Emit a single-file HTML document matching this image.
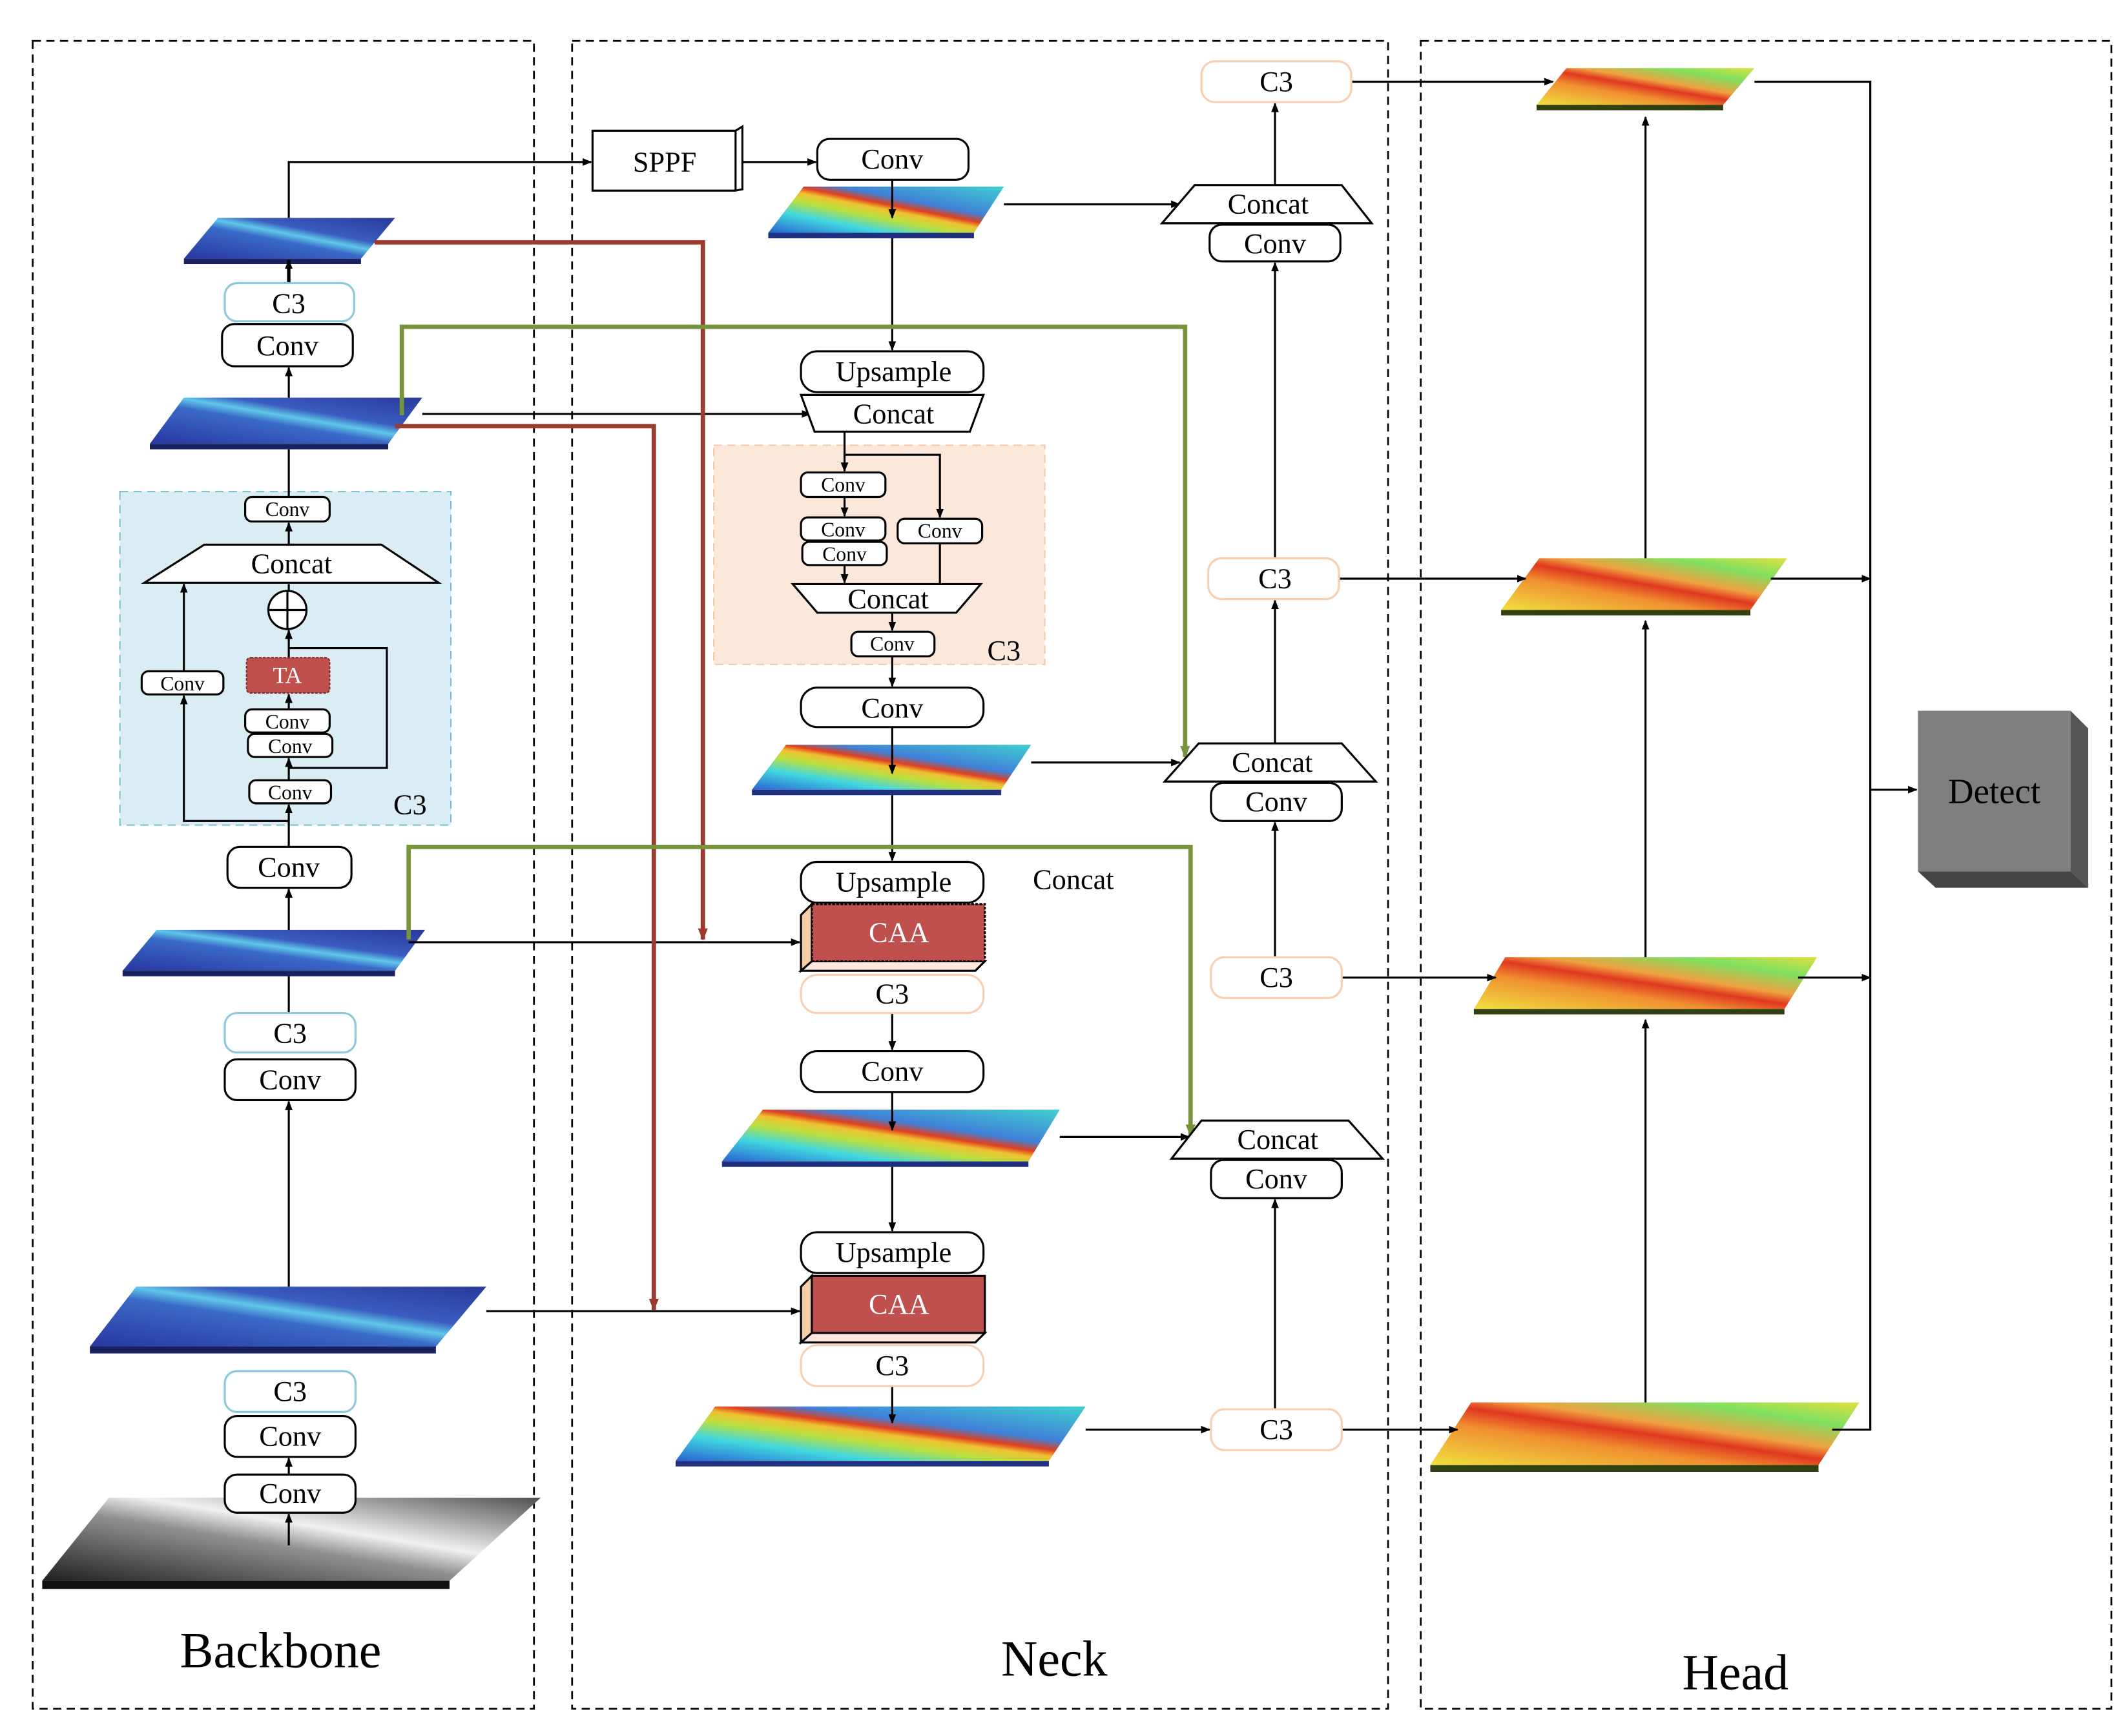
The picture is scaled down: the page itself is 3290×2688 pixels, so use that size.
<!DOCTYPE html>
<html><head><meta charset="utf-8"><style>
html,body{margin:0;padding:0;background:#fff}
svg{display:block}
text{font-family:"Liberation Serif",serif;fill:#000;text-anchor:middle;dominant-baseline:central}
</style></head><body>
<svg width="3290" height="2688" viewBox="0 0 1560 1275" preserveAspectRatio="none" xmlns="http://www.w3.org/2000/svg">
<defs>
<marker id="a" viewBox="0 0 10 10" refX="9" refY="5" markerWidth="7" markerHeight="7" orient="auto-start-reverse" markerUnits="userSpaceOnUse"><path d="M0,1 L10,5 L0,9z" fill="#000"/></marker>
<marker id="ar" viewBox="0 0 10 10" refX="9" refY="5" markerWidth="9" markerHeight="9" orient="auto" markerUnits="userSpaceOnUse"><path d="M0,1 L10,5 L0,9z" fill="#9b3a2e"/></marker>
<marker id="ag" viewBox="0 0 10 10" refX="9" refY="5" markerWidth="9" markerHeight="9" orient="auto" markerUnits="userSpaceOnUse"><path d="M0,1 L10,5 L0,9z" fill="#77933c"/></marker>
<linearGradient id="gb" x1="0" y1="1" x2="1" y2="0"><stop offset="0" stop-color="#2836a0"/><stop offset="0.45" stop-color="#3a6ac8"/><stop offset="0.55" stop-color="#5fc8e8"/><stop offset="0.65" stop-color="#3a5cc0"/><stop offset="1" stop-color="#2a3a9a"/></linearGradient>
<linearGradient id="gn" x1="0" y1="1" x2="1" y2="0"><stop offset="0" stop-color="#2a60d0"/><stop offset="0.25" stop-color="#40d8e0"/><stop offset="0.4" stop-color="#b8e040"/><stop offset="0.5" stop-color="#f0c030"/><stop offset="0.56" stop-color="#e04020"/><stop offset="0.65" stop-color="#4080d8"/><stop offset="1" stop-color="#40d0d0"/></linearGradient>
<linearGradient id="gh" x1="0" y1="1" x2="1" y2="0"><stop offset="0" stop-color="#f0e040"/><stop offset="0.35" stop-color="#f09030"/><stop offset="0.5" stop-color="#e03820"/><stop offset="0.6" stop-color="#f0a040"/><stop offset="0.8" stop-color="#80e060"/><stop offset="1" stop-color="#e0e040"/></linearGradient>
<linearGradient id="gg" x1="0" y1="1" x2="1" y2="0"><stop offset="0" stop-color="#202020"/><stop offset="0.45" stop-color="#909090"/><stop offset="0.6" stop-color="#f0f0f0"/><stop offset="1" stop-color="#505050"/></linearGradient>
</defs>
<g fill="none" stroke="#000" stroke-width="1.3" stroke-dasharray="6,4">
<rect x="24" y="30" width="368" height="1225"/>
<rect x="420" y="30" width="599" height="1225"/>
<rect x="1043" y="30" width="507" height="1225"/>
</g>
<text x="206" y="1212" font-size="37">Backbone</text>
<text x="774" y="1218" font-size="37">Neck</text>
<text x="1274" y="1228" font-size="37">Head</text>

<!-- shaded regions -->
<rect x="88" y="361" width="243" height="245" fill="#daedf4" stroke="#7fc0d8" stroke-dasharray="6,4"/>
<rect x="524" y="327" width="243" height="161" fill="#fbe8da" stroke="#f5c9a8" stroke-dasharray="6,4"/>

<!-- feature maps -->
<g stroke="none">
<polygon points="160,160 290,160 265,190 135,190" fill="url(#gb)"/><polygon points="135,190 265,190 265,194 135,194" fill="#1a2060"/>
<polygon points="135,292 310,292 285,326 110,326" fill="url(#gb)"/><polygon points="110,326 285,326 285,330 110,330" fill="#1a2060"/>
<polygon points="115,683 312,683 290,713 90,713" fill="url(#gb)"/><polygon points="90,713 290,713 290,717 90,717" fill="#1a2060"/>
<polygon points="100,945 357,945 320,989 66,989" fill="url(#gb)"/><polygon points="66,989 320,989 320,994 66,994" fill="#1a2060"/>
<polygon points="80,1100 397,1100 330,1161 31,1161" fill="url(#gg)"/><polygon points="31,1161 330,1161 330,1167 31,1167" fill="#111"/>
<polygon points="590,137 737,137 715,171 564,171" fill="url(#gn)"/><polygon points="564,171 715,171 715,175 564,175" fill="#203080"/>
<polygon points="577,547 757,547 735,580 552,580" fill="url(#gn)"/><polygon points="552,580 735,580 735,584 552,584" fill="#203080"/>
<polygon points="560,815 778,815 755,853 530,853" fill="url(#gn)"/><polygon points="530,853 755,853 755,857 530,857" fill="#203080"/>
<polygon points="525,1033 797,1033 770,1073 496,1073" fill="url(#gn)"/><polygon points="496,1073 770,1073 770,1077 496,1077" fill="#203080"/>
<polygon points="1150,50 1288,50 1265,77 1128,77" fill="url(#gh)"/><polygon points="1128,77 1265,77 1265,81 1128,81" fill="#304010"/>
<polygon points="1130,410 1312,410 1285,448 1102,448" fill="url(#gh)"/><polygon points="1102,448 1285,448 1285,452 1102,452" fill="#304010"/>
<polygon points="1105,703 1334,703 1310,741 1082,741" fill="url(#gh)"/><polygon points="1082,741 1310,741 1310,745 1082,745" fill="#304010"/>
<polygon points="1080,1030 1365,1030 1335,1076 1050,1076" fill="url(#gh)"/><polygon points="1050,1076 1335,1076 1335,1081 1050,1081" fill="#304010"/>
</g>

<!-- connectors black -->
<g fill="none" stroke="#000" stroke-width="1.5">
<path d="M212,160 V119 H434" marker-end="url(#a)"/>
<path d="M543,119 H599" marker-end="url(#a)"/>
<path d="M655,132 V160" marker-end="url(#a)"/>
<path d="M737,150 H866" marker-end="url(#a)"/>
<path d="M655,175 V257" marker-end="url(#a)"/>
<path d="M936,136 V76" marker-end="url(#a)"/>
<path d="M992,60 H1140" marker-end="url(#a)"/>
<path d="M310,304 H595" marker-end="url(#a)"/>
<path d="M620,317 V346" marker-end="url(#a)"/>
<path d="M620,334 H690 V380" marker-end="url(#a)"/>
<path d="M620,365 V379" marker-end="url(#a)"/>
<path d="M620,415 V428" marker-end="url(#a)"/>
<path d="M690,399 V429"/>
<path d="M655,450 V463" marker-end="url(#a)"/>
<path d="M655,482 V504" marker-end="url(#a)"/>
<path d="M655,534 V568" marker-end="url(#a)"/>
<path d="M757,560 H866" marker-end="url(#a)"/>
<path d="M936,546 V441" marker-end="url(#a)"/>
<path d="M936,410 V193" marker-end="url(#a)"/>
<path d="M983,425 H1120" marker-end="url(#a)"/>
<path d="M655,584 V632" marker-end="url(#a)"/>
<path d="M300,692 H587" marker-end="url(#a)"/>
<path d="M655,744 V771" marker-end="url(#a)"/>
<path d="M655,802 V830" marker-end="url(#a)"/>
<path d="M778,835 H873" marker-end="url(#a)"/>
<path d="M936,703 V604" marker-end="url(#a)"/>
<path d="M985,718 H1098" marker-end="url(#a)"/>
<path d="M655,857 V904" marker-end="url(#a)"/>
<path d="M357,963 H587" marker-end="url(#a)"/>
<path d="M655,1018 V1045" marker-end="url(#a)"/>
<path d="M797,1050 H888" marker-end="url(#a)"/>
<path d="M936,1035 V881" marker-end="url(#a)"/>
<path d="M985,1050 H1070" marker-end="url(#a)"/>
<path d="M1208,410 V86" marker-end="url(#a)"/>
<path d="M1208,703 V456" marker-end="url(#a)"/>
<path d="M1208,1030 V749" marker-end="url(#a)"/>
<path d="M1288,60 H1373 V1050 H1345"/>
<path d="M1300,425 H1373" marker-end="url(#a)"/>
<path d="M1320,718 H1373" marker-end="url(#a)"/>
<path d="M1373,580 H1407" marker-end="url(#a)"/>
<!-- backbone column -->
<path d="M212,1135 V1112" marker-end="url(#a)"/>
<path d="M212,1083 V1071" marker-end="url(#a)"/>
<path d="M212,945 V809" marker-end="url(#a)"/>
<path d="M212,744 V717"/>
<path d="M212,683 V653" marker-end="url(#a)"/>
<path d="M212,622 V591" marker-end="url(#a)"/>
<path d="M212,573 V557" marker-end="url(#a)"/>
<path d="M212,539 V538"/>
<path d="M212,521 V510" marker-end="url(#a)"/>
<path d="M212,483 V463" marker-end="url(#a)"/>
<path d="M212,476 H284 V564 H212"/>
<path d="M212,603 H135 V511" marker-end="url(#a)"/>
<path d="M135,493 V429" marker-end="url(#a)"/>
<path d="M212,434 V429"/>
<path d="M212,400 V384" marker-end="url(#a)"/>
<path d="M212,365 V330"/>
<path d="M212,292 V270" marker-end="url(#a)"/>
<path d="M212,208 V191" marker-end="url(#a)" stroke-width="2.5"/>
</g>

<!-- red / green lines -->
<g fill="none" stroke-width="3.2">
<path d="M275,178 H516 V690" stroke="#9b3a2e" marker-end="url(#ar)"/>
<path d="M290,313 H480 V962" stroke="#9b3a2e" marker-end="url(#ar)"/>
<path d="M295,305 V240 H870 V556" stroke="#77933c" marker-end="url(#ag)"/>
<path d="M300,690 V622 H874 V834" stroke="#77933c" marker-end="url(#ag)"/>
</g>

<!-- boxes -->
<g stroke="#000" stroke-width="1.5" fill="#fff">
<rect x="163" y="238" width="96" height="31" rx="9"/>
<rect x="167" y="622" width="91" height="30" rx="9"/>
<rect x="165" y="778" width="96" height="30" rx="9"/>
<rect x="165" y="1040" width="96" height="30" rx="9"/>
<rect x="165" y="1083" width="96" height="28" rx="9"/>
<rect x="180" y="365" width="62" height="18" rx="5"/>
<polygon points="150,400 280,400 322,428 106,428"/>
<rect x="104" y="493" width="60" height="17" rx="5"/>
<rect x="180" y="521" width="62" height="17" rx="5"/>
<rect x="182" y="539" width="62" height="17" rx="5"/>
<rect x="183" y="573" width="60" height="17" rx="5"/>
<rect x="600" y="102" width="111" height="30" rx="9"/>
<rect x="888" y="165" width="96" height="27" rx="9"/>
<polygon points="877,136 985,136 1007,164 853,164"/>
<rect x="588" y="258" width="134" height="30" rx="12"/>
<polygon points="588,290 722,290 712,317 598,317"/>
<rect x="588" y="347" width="62" height="18" rx="5"/>
<rect x="588" y="380" width="62" height="17" rx="5"/>
<rect x="589" y="398" width="62" height="17" rx="5"/>
<rect x="659" y="381" width="62" height="18" rx="5"/>
<polygon points="582,429 720,429 702,450 600,450"/>
<rect x="625" y="464" width="61" height="18" rx="5"/>
<rect x="588" y="505" width="134" height="29" rx="12"/>
<polygon points="880,546 985,546 1010,574 855,574"/>
<rect x="889" y="575" width="96" height="28" rx="9"/>
<rect x="588" y="633" width="134" height="30" rx="12"/>
<rect x="588" y="772" width="134" height="30" rx="12"/>
<polygon points="882,823 990,823 1015,851 860,851"/>
<rect x="889" y="852" width="96" height="28" rx="9"/>
<rect x="588" y="905" width="134" height="30" rx="12"/>
</g>
<circle cx="211" cy="448" r="14" fill="#fff" stroke="#000" stroke-width="1.5"/>
<path d="M197,448 H225 M211,434 V462" stroke="#000" stroke-width="1.5"/>
<rect x="181" y="483" width="61" height="26" rx="3" fill="#c0504d" stroke="#7a2a2a" stroke-dasharray="2,1"/>

<!-- colored border boxes -->
<g fill="#fff" stroke-width="1.5">
<rect x="165" y="208" width="95" height="28" rx="9" stroke="#8cc8dc"/>
<rect x="165" y="744" width="96" height="29" rx="9" stroke="#8cc8dc"/>
<rect x="165" y="1007" width="96" height="30" rx="9" stroke="#8cc8dc"/>
<rect x="882" y="45" width="110" height="30" rx="10" stroke="#f8cfb0"/>
<rect x="887" y="410" width="96" height="30" rx="10" stroke="#f8cfb0"/>
<rect x="889" y="703" width="96" height="30" rx="10" stroke="#f8cfb0"/>
<rect x="889" y="1035" width="96" height="30" rx="10" stroke="#f8cfb0"/>
<rect x="588" y="716" width="134" height="28" rx="12" stroke="#f8cfb0"/>
<rect x="588" y="988" width="134" height="30" rx="12" stroke="#f8cfb0"/>
</g>

<!-- SPPF -->
<polygon points="435,96 540,96 545,93 545,139 540,140 435,140" fill="#fff" stroke="#000" stroke-width="1.5"/>
<path d="M540,96 V140" stroke="#000" stroke-width="1.5"/>
<!-- CAA -->
<g stroke="#000" stroke-width="1.5">
<polygon points="588,672 596,664 596,706 588,713" fill="#f9cca8"/>
<polygon points="588,713 596,706 723,706 716,713" fill="#fde9e0"/>
<rect x="596" y="664" width="127" height="42" fill="#c0504d" stroke-dasharray="2,1"/>
<polygon points="588,945 596,937 596,979 588,986" fill="#f9cca8"/>
<polygon points="588,986 596,979 723,979 716,986" fill="#fde9e0"/>
<rect x="596" y="937" width="127" height="42" fill="#c0504d"/>
</g>
<!-- Detect -->
<polygon points="1520,522 1533,535 1533,652 1520,640" fill="#555"/>
<polygon points="1408,640 1520,640 1533,652 1421,652" fill="#444"/>
<rect x="1408" y="522" width="112" height="118" fill="#7f7f7f"/>

<!-- labels -->
<g font-size="21">
<text x="212" y="223">C3</text><text x="211" y="254">Conv</text>
<text x="212" y="637">Conv</text>
<text x="213" y="759">C3</text><text x="213" y="793">Conv</text>
<text x="213" y="1022">C3</text><text x="213" y="1055">Conv</text><text x="213" y="1097">Conv</text>
<text x="214" y="414">Concat</text>
<text x="488" y="119">SPPF</text>
<text x="655" y="117">Conv</text>
<text x="931" y="150">Concat</text><text x="936" y="179">Conv</text>
<text x="937" y="60">C3</text>
<text x="656" y="273">Upsample</text><text x="656" y="304">Concat</text>
<text x="652" y="440">Concat</text>
<text x="655" y="520">Conv</text>
<text x="934" y="560">Concat</text><text x="937" y="589">Conv</text>
<text x="936" y="425">C3</text>
<text x="656" y="648">Upsample</text><text x="788" y="646">Concat</text>
<text x="655" y="730">C3</text><text x="655" y="787">Conv</text>
<text x="937" y="718">C3</text>
<text x="938" y="837">Concat</text><text x="937" y="866">Conv</text>
<text x="656" y="920">Upsample</text>
<text x="655" y="1003">C3</text>
<text x="937" y="1050">C3</text>
<text x="301" y="591">C3</text><text x="737" y="478">C3</text>
<text x="660" y="685" fill="#fff" style="fill:#fff">CAA</text>
<text x="660" y="958" style="fill:#fff">CAA</text>
</g>
<g font-size="15">
<text x="211" y="374">Conv</text><text x="134" y="502">Conv</text>
<text x="211" y="530">Conv</text><text x="213" y="548">Conv</text><text x="213" y="582">Conv</text>
<text x="619" y="356">Conv</text><text x="619" y="389">Conv</text><text x="620" y="407">Conv</text>
<text x="690" y="390">Conv</text><text x="655" y="473">Conv</text>
<text x="211" y="496" style="fill:#fff" font-size="17">TA</text>
</g>
<text x="1464" y="581" font-size="26">Detect</text>
</svg>
</body></html>
